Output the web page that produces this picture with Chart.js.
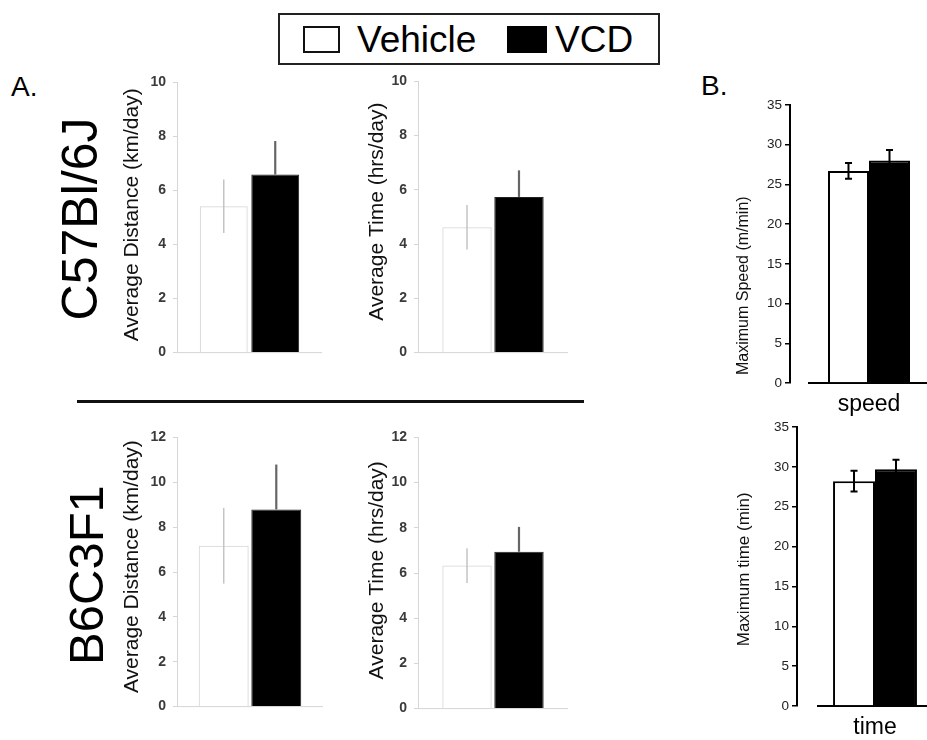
<!DOCTYPE html>
<html><head><meta charset="utf-8">
<script src="https://cdn.jsdelivr.net/npm/chart.js@4.4.0/dist/chart.umd.min.js"></script>
<style>
html,body{margin:0;padding:0;width:927px;height:740px;overflow:hidden;background:#fff;font-family:"Liberation Sans",Arial,Helvetica,sans-serif;}
canvas{position:absolute;}
.t{position:absolute;line-height:1;white-space:nowrap;color:#000;}
#legend{position:absolute;left:278px;top:13px;width:382px;height:52px;border:2px solid #222;box-sizing:border-box;}
.sq{position:absolute;box-sizing:border-box;}
#hr{position:absolute;left:77px;top:400px;width:507px;height:3px;background:#111;}
</style></head><body>
<div id="legend"></div>
<div class="t" style="left:11px;top:73px;font-size:28px;">A.</div>
<div class="t" style="left:701px;top:72px;font-size:28px;">B.</div>
<div class="t" style="left:80px;top:219px;font-size:50px;transform:translate(-50%,-50%) rotate(-90deg);">C57Bl/6J</div>
<div class="t" style="left:86px;top:575px;font-size:49px;transform:translate(-50%,-50%) rotate(-90deg);">B6C3F1</div>
<div id="hr"></div>
<script>
// ---- data ----
const groups = ['Vehicle', 'VCD'];
const c57DistMean = [5.42, 6.59];
const c57DistErr  = [0.99, 1.24];
const c57TimeMean = [4.62, 5.74];
const c57TimeErr  = [0.82, 0.98];
const b6DistMean  = [7.17, 8.79];
const b6DistErr   = [1.69, 2.00];
const b6TimeMean  = [6.33, 6.94];
const b6TimeErr   = [0.77, 1.10];
const maxSpeedMean = [26.7, 28.0];
const maxSpeedErr  = [1.00, 1.34];
const maxTimeMean  = [28.2, 29.7];
const maxTimeErr   = [1.30, 1.20];
const ticksTen    = [0, 2, 4, 6, 8, 10];
const ticksTwelve = [0, 2, 4, 6, 8, 10, 12];
const ticksB      = [0, 5, 10, 15, 20, 25, 30, 35];
const titleDist = 'Average Distance (km/day)';
const titleTime = 'Average Time (hrs/day)';
const titleSpeedB = 'Maximum Speed (m/min)';
const titleTimeB = 'Maximum time (min)';
const catSpeed = 'speed';
const catTime = 'time';

const FAM = '"Liberation Sans", Arial, Helvetica, sans-serif';

// legend
(function(){
  const lg = document.getElementById('legend');
  lg.innerHTML =
    '<div class="sq" style="left:23px;top:11px;width:37px;height:27px;border:2.5px solid #111;background:#fff"></div>' +
    '<div class="t" style="left:77px;top:6px;font-size:37px;">' + groups[0] + '</div>' +
    '<div class="sq" style="left:227px;top:11px;width:40px;height:27px;background:#000"></div>' +
    '<div class="t" style="left:275px;top:6px;font-size:37px;">' + groups[1] + '</div>';
})();

const decor = {
  id: 'decor',
  beforeDatasetsDraw(chart, args, o) {
    const ctx = chart.ctx, a = chart.chartArea;
    ctx.save();
    ctx.strokeStyle = o.xLineColor; ctx.lineWidth = o.xLineWidth;
    ctx.beginPath();
    ctx.moveTo(a.left + o.xLineStart, a.bottom);
    ctx.lineTo(a.right, a.bottom);
    ctx.stroke();
    ctx.restore();
  },
  afterDatasetsDraw(chart, args, o) {
    const ctx = chart.ctx, a = chart.chartArea, ys = chart.scales.y, xs = chart.scales.x;
    ctx.save();
    chart.data.datasets.forEach((ds, di) => {
      const meta = chart.getDatasetMeta(di);
      meta.data.forEach((bar, i) => {
        const v = ds.data[i], e = ds.err[i];
        const yT = ys.getPixelForValue(v + e);
        const yB = ys.getPixelForValue(ds.errUpOnly ? v : v - e);
        ctx.strokeStyle = ds.errColor; ctx.lineWidth = ds.errWidth;
        ctx.beginPath();
        ctx.moveTo(bar.x, yT); ctx.lineTo(bar.x, yB);
        if (ds.capW) {
          ctx.moveTo(bar.x - ds.capW / 2, yT); ctx.lineTo(bar.x + ds.capW / 2, yT);
          if (!ds.errUpOnly) { ctx.moveTo(bar.x - ds.capW / 2, yB); ctx.lineTo(bar.x + ds.capW / 2, yB); }
        }
        ctx.stroke();
      });
    });
    // y title
    ctx.fillStyle = o.titleColor;
    ctx.font = o.titleFont;
    ctx.textAlign = 'center'; ctx.textBaseline = 'middle';
    ctx.translate(a.left + o.titleDx, a.top + o.titleFrac * (a.bottom - a.top));
    ctx.rotate(-Math.PI / 2);
    ctx.fillText(o.titleText, 0, 0);
    ctx.setTransform(1, 0, 0, 1, 0, 0);
    if (o.catText) {
      ctx.font = o.catFont; ctx.textAlign = 'center'; ctx.textBaseline = 'alphabetic';
      ctx.fillStyle = '#000';
      ctx.fillText(o.catText, xs.getPixelForValue(0), a.bottom + o.catDy);
    }
    ctx.restore();
  }
};

function panel(geo, means, errs, tickArr, styleB, titleText, titleDx, titleFrac, catText) {
  const axisW = 60, padT = 15, padB = geo.padB || 15;
  const W = axisW + (geo.R - geo.L), H = padT + (geo.B - geo.T) + padB;
  const cv = document.createElement('canvas');
  cv.width = W; cv.height = H;
  cv.style.left = (geo.L - axisW) + 'px'; cv.style.top = (geo.T - padT) + 'px';
  cv.style.width = W + 'px'; cv.style.height = H + 'px';
  document.body.appendChild(cv);
  const ds = groups.map((g, i) => {
    const vehicle = i === 0;
    return {
      label: g,
      data: [means[i]],
      err: [errs[i]],
      backgroundColor: vehicle ? (styleB ? '#fff' : 'rgba(255,255,255,0)') : '#000',
      borderColor: vehicle ? (styleB ? '#000' : '#d6d6d6') : (styleB ? '#000' : '#222'),
      borderWidth: styleB ? 2 : 1,
      errColor: styleB ? '#000' : (vehicle ? '#c4c4c4' : '#666'),
      errWidth: styleB ? 2 : (vehicle ? 1.5 : 2.2),
      errUpOnly: !vehicle && !styleB,
      capW: styleB ? 7 : 0
    };
  });
  new Chart(cv, {
    type: 'bar',
    data: { labels: [catText || ''], datasets: ds },
    options: {
      responsive: false, animation: false, devicePixelRatio: 1,
      layout: { padding: { top: padT, bottom: padB, left: 0, right: 0 } },
      datasets: { bar: { categoryPercentage: geo.cat, barPercentage: geo.bar } },
      plugins: {
        legend: { display: false }, tooltip: { enabled: false },
        decor: {
          xLineColor: styleB ? '#000' : '#d6d6d6', xLineWidth: styleB ? 2 : 1,
          xLineStart: styleB ? geo.xs : 0,
          titleText, titleDx, titleFrac,
          titleFont: styleB ? (geo.tf + 'px ' + FAM) : ('21px ' + FAM),
          titleColor: '#111',
          catText, catFont: '23px ' + FAM, catDy: 28
        }
      },
      scales: {
        x: { display: false },
        y: {
          min: 0, max: tickArr[tickArr.length - 1],
          afterFit(s) { s.width = axisW; },
          afterBuildTicks(s) { s.ticks = tickArr.map(v => ({ value: v })); },
          ticks: styleB
            ? { font: { size: 13.5, family: FAM }, color: '#222', padding: 3 }
            : { font: { size: 14, weight: 'bold', family: FAM }, color: '#3a3a3a', padding: 7 },
          grid: styleB
            ? { drawOnChartArea: false, color: '#000', tickLength: 5, lineWidth: 1.5 }
            : { drawOnChartArea: false, color: '#d6d6d6', tickLength: 4, lineWidth: 1 },
          border: styleB ? { color: '#000', width: 2 } : { color: '#d6d6d6', width: 1 }
        }
      }
    },
    plugins: [decor]
  });
}

panel({L:177,R:322,T:82,B:353,cat:0.71,bar:0.93}, c57DistMean, c57DistErr, ticksTen, false, titleDist, -45, 0.49);
panel({L:418,R:568,T:81,B:353,cat:0.693,bar:0.95}, c57TimeMean, c57TimeErr, ticksTen, false, titleTime, -41, 0.48);
panel({L:177,R:323,T:437,B:707,cat:0.72,bar:0.95}, b6DistMean, b6DistErr, ticksTwelve, false, titleDist, -45, 0.48);
panel({L:418,R:568,T:437,B:709,cat:0.693,bar:0.95}, b6TimeMean, b6TimeErr, ticksTwelve, false, titleTime, -41, 0.49);
panel({L:790,R:948,T:105,B:383,cat:0.519,bar:1.0,xs:18,padB:40,tf:16}, maxSpeedMean, maxSpeedErr, ticksB, true, titleSpeedB, -46, 0.65, catSpeed);
panel({L:797,R:953,T:427,B:706,cat:0.538,bar:1.0,xs:20,padB:34,tf:17}, maxTimeMean, maxTimeErr, ticksB, true, titleTimeB, -53, 0.51, catTime);
</script>
</body></html>
